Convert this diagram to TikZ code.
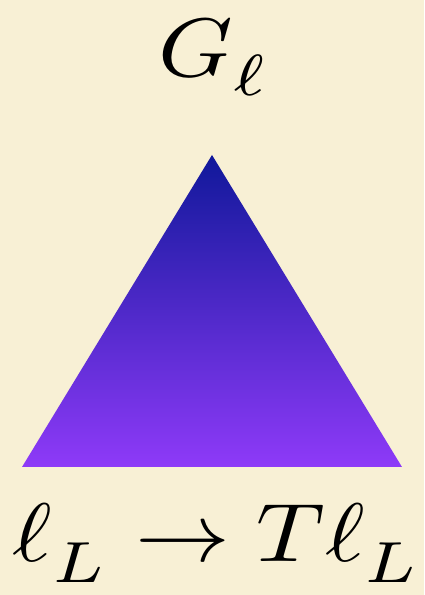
\documentclass[tikz,border=0pt]{standalone}
\usepackage{amsmath,amssymb}
\usepackage{xcolor}
\usepackage{tikz}
\usetikzlibrary{positioning, calc}
\definecolor{paper}{HTML}{F8F0D5}
\definecolor{apexblue}{HTML}{10189A}
\definecolor{basepurple}{HTML}{8E3AF8}
% subscript set a little lower than TeX's default
\newcommand{\dropsub}[2]{\lower#1\hbox{$\scriptstyle #2$}}

\begin{document}
\begin{tikzpicture}[
    biglabel/.style={inner sep=0pt, xscale=6.75, yscale=5.9}
  ]
      % Background
      \fill[paper] (0,0) rectangle (10.6,14.875);
      \useasboundingbox (0,0) rectangle (10.6,14.875);

      % Triangle corners
      \coordinate (apex) at (5.3,11.0);
      \coordinate (baseL) at (0.55,3.2);
      \coordinate (baseR) at (10.05,3.2);

      % Shaded triangle
      \shade[top color=apexblue, bottom color=basepurple]
        (apex) -- (baseL) -- (baseR) -- cycle;

      % Labels
      \node[biglabel, anchor=base] (group) at (5.35,12.97) {$G_{\dropsub{0.8pt}{\ell}}$};
      \node[biglabel, anchor=base] (map) at (5.43,0.83)
        {$\ell_{\dropsub{1pt}{L}} \to T\ell_{\dropsub{1pt}{L}}$};
    \end{tikzpicture}
\end{document}
